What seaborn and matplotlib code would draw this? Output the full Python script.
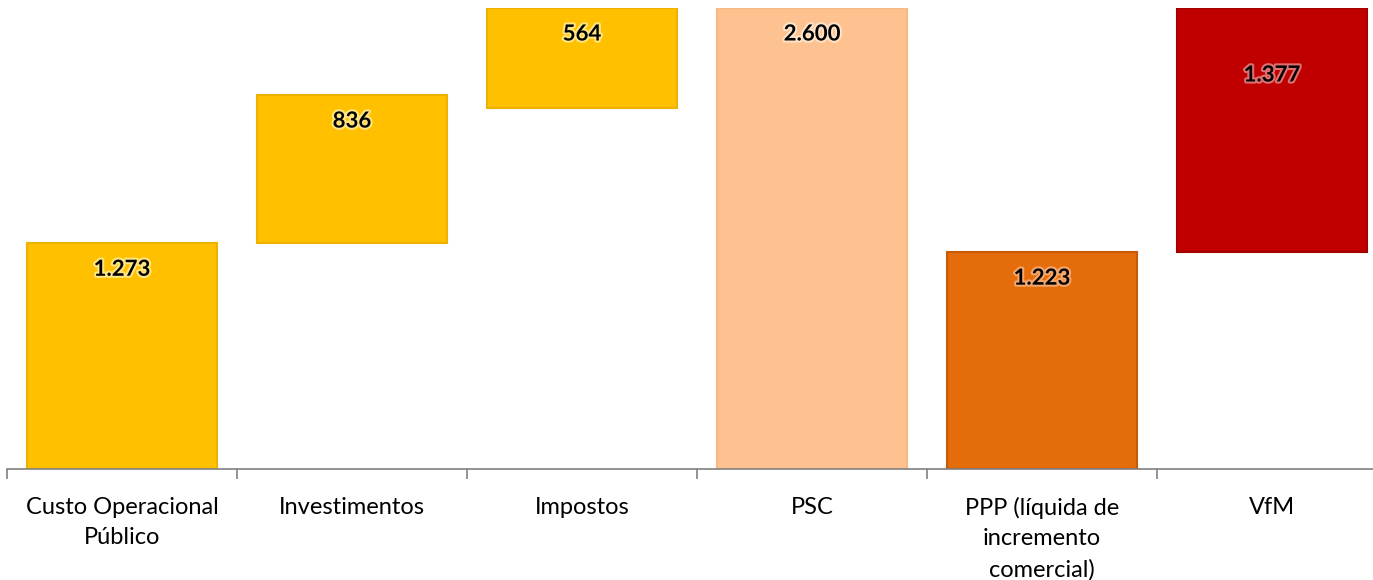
import matplotlib
matplotlib.use('Agg')
import matplotlib.pyplot as plt
import matplotlib.patheffects as pe
import seaborn as sns
import pandas as pd

# Waterfall data (values in R$ millions, pt-BR formatting)
categories = ['Custo Operacional\nPúblico', 'Investimentos', 'Impostos',
              'PSC', 'PPP (líquida de\nincremento\ncomercial)', 'VfM']
values = [1273, 836, 564, 2600, 1223, 1377]
value_labels = ['1.273', '836', '564', '2.600', '1.223', '1.377']
# floating bases: Investimentos sits on Custo, Impostos hangs from PSC, VfM sits on PPP
bases = [0, values[0], values[3] - values[2], 0, 0, values[4]]

fill_colors = ['#FFC000', '#FFC000', '#FFC000', '#FDC28F', '#E46C0A', '#C00000']
edge_colors = ['#EDB200', '#EDB200', '#EDB200', '#F9B880', '#C75A06', '#A30000']
glow_colors = ['#FFE680', '#FFE680', '#FFE680', '#FFE3C8', '#F5A66A', '#E07070']
# label distance below bar top, pixels
label_drop = [26, 26, 26, 26, 26, 67]

sns.set_theme(style='white')
plt.rcParams['font.family'] = ['Lato', 'DejaVu Sans']

df = pd.DataFrame({'categoria': categories, 'valor': values})

fig = plt.figure(figsize=(13.73, 5.80), dpi=100)
ax = fig.add_axes([7 / 1373, (580 - 469) / 580, 1380 / 1373, 461 / 580])

sns.barplot(data=df, x='categoria', y='valor', hue='categoria',
            palette=fill_colors, legend=False, width=0.83, ax=ax,
            saturation=1, linewidth=1.5)

for patch, base, ec in zip(ax.patches, bases, edge_colors):
    patch.set_y(base)
    patch.set_edgecolor(ec)

for i, (v, b, lab, gc, d) in enumerate(zip(values, bases, value_labels, glow_colors, label_drop)):
    ax.annotate(lab, xy=(i, b + v), xytext=(0, -d), textcoords='offset pixels',
                ha='center', va='center', fontsize=16, fontweight='bold', color='black',
                path_effects=[pe.withStroke(linewidth=3, foreground=gc)])

ax.set_xlim(-0.5, 5.5)
ax.set_ylim(0, 2600)
ax.set_yticks([])
ax.set_xlabel('')
ax.set_ylabel('')
for side in ['top', 'right', 'left']:
    ax.spines[side].set_visible(False)
ax.spines['bottom'].set_color('#808080')
ax.spines['bottom'].set_linewidth(1.2)

ax.set_xticks(range(len(categories)))
ax.set_xticklabels(categories, fontsize=17, color='black', linespacing=1.55)
ax.tick_params(axis='x', which='major', length=0, pad=20)
ax.set_xticks([i - 0.5 for i in range(len(categories) + 1)], minor=True)
ax.tick_params(axis='x', which='minor', length=7, width=1.2, color='#808080',
               direction='out', bottom=True)
for t in ax.get_xticklabels():
    t.set_verticalalignment('top')

fig.savefig('out.png', dpi=100)
